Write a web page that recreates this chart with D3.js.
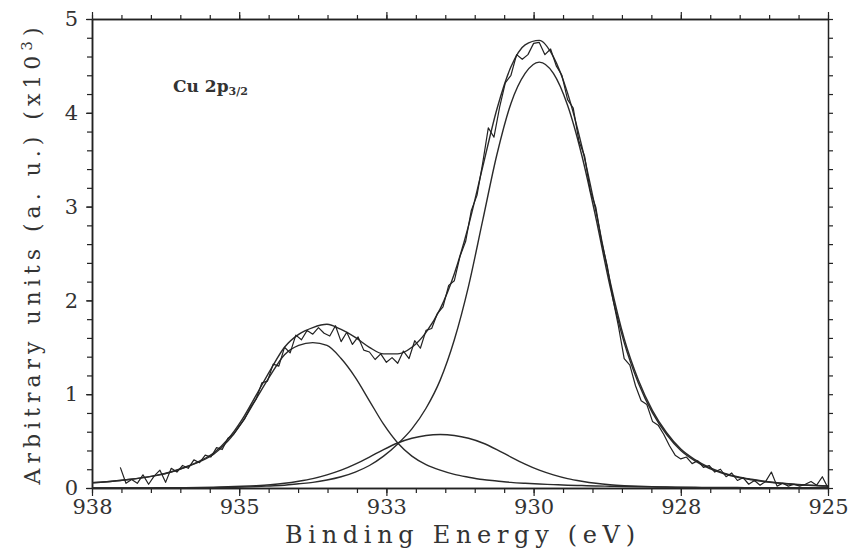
<!DOCTYPE html>
<html>
<head>
<meta charset="utf-8">
<script src="https://cdn.jsdelivr.net/npm/d3@7"></script>
<style>
  body { margin: 0; background: #fff; }
  svg { display: block; }
  text { font-family: "DejaVu Serif", serif; fill: #333; }
</style>
</head>
<body>
<div id="chart"></div>
<script>
// fitted components, sampled on a common energy grid (eV)
const fitEnergy = [938.0, 937.85, 937.6, 937.35, 937.1, 936.85, 936.6, 936.35, 936.1, 935.85, 935.6, 935.35, 935.1,
    934.85, 934.6, 934.35, 934.1, 933.85, 933.6, 933.35, 933.1, 932.85, 932.6, 932.35, 932.1, 931.85, 931.6,
    931.35, 931.1, 930.85, 930.6, 930.35, 930.1, 929.85, 929.6, 929.35, 929.1, 928.85, 928.6, 928.35, 928.1,
    927.85, 927.6, 927.35, 927.1, 926.85, 926.6, 926.35, 926.1, 925.85, 925.6, 925.35, 925.1, 925.0];
const peakMain = [0, 0, 0, 0, 0, 0, 0, 0, 0.001, 0.004, 0.006, 0.01, 0.015,
    0.022, 0.03, 0.045, 0.06, 0.085, 0.12, 0.17, 0.24, 0.34, 0.47, 0.63, 0.85, 1.15, 1.58,
    2.15, 2.85, 3.55, 4.10, 4.42, 4.54, 4.42, 4.08, 3.55, 2.88, 2.15, 1.55, 1.12, 0.80,
    0.57, 0.40, 0.29, 0.21, 0.155, 0.115, 0.088, 0.066, 0.05, 0.038, 0.029, 0.022, 0.02];
const peakHigh = [0.056, 0.062, 0.075, 0.09, 0.11, 0.135, 0.17, 0.22, 0.28, 0.36, 0.50, 0.70, 0.95,
    1.20, 1.42, 1.52, 1.55, 1.52, 1.38, 1.18, 0.93, 0.68, 0.48, 0.34, 0.25, 0.19, 0.145,
    0.115, 0.09, 0.075, 0.06, 0.05, 0.042, 0.036, 0.03, 0.026, 0.022, 0.019, 0.016, 0.014, 0.012,
    0.01, 0.009, 0.008, 0.006, 0.005, 0.005, 0.004, 0.004, 0.003, 0.003, 0.002, 0.002, 0.002];
const peakMid = [0, 0, 0, 0.001, 0.001, 0.002, 0.003, 0.004, 0.006, 0.009, 0.013, 0.018, 0.025,
    0.035, 0.05, 0.072, 0.10, 0.14, 0.19, 0.255, 0.33, 0.41, 0.48, 0.53, 0.56, 0.57, 0.56,
    0.53, 0.48, 0.41, 0.33, 0.255, 0.19, 0.14, 0.10, 0.072, 0.05, 0.035, 0.025, 0.018, 0.013,
    0.009, 0.006, 0.004, 0.003, 0.002, 0.001, 0.001, 0, 0, 0, 0, 0, 0];
const fitSum = [0.056, 0.062, 0.075, 0.091, 0.111, 0.137, 0.173, 0.224, 0.287, 0.373, 0.519, 0.728, 0.99,
    1.257, 1.50, 1.637, 1.71, 1.745, 1.69, 1.605, 1.50, 1.43, 1.43, 1.50, 1.66, 1.91, 2.285,
    2.795, 3.42, 4.035, 4.49, 4.725, 4.772, 4.596, 4.21, 3.648, 2.952, 2.204, 1.591, 1.152, 0.825,
    0.589, 0.415, 0.302, 0.219, 0.162, 0.121, 0.093, 0.07, 0.053, 0.041, 0.031, 0.024, 0.022];

// measured spectrum (x10^3 counts)
const rawEnergy = [937.5, 937.4, 937.3, 937.2, 937.1, 937.0, 936.9, 936.8, 936.7, 936.6, 936.5, 936.4, 936.3, 936.2,
    936.1, 936.0, 935.9, 935.8, 935.7, 935.6, 935.5, 935.4, 935.3, 935.2, 935.1, 935.0, 934.9, 934.8, 934.7,
    934.6, 934.5, 934.4, 934.3, 934.2, 934.1, 934.0, 933.9, 933.8, 933.7, 933.6, 933.5, 933.4, 933.3, 933.2,
    933.1, 933.0, 932.9, 932.8, 932.7, 932.6, 932.5, 932.4, 932.3, 932.2, 932.1, 932.0, 931.9, 931.8, 931.7,
    931.6, 931.5, 931.4, 931.3, 931.2, 931.1, 931.0, 930.9, 930.8, 930.7, 930.6, 930.5, 930.4, 930.3, 930.2,
    930.1, 930.0, 929.9, 929.8, 929.7, 929.6, 929.5, 929.4, 929.3, 929.2, 929.1, 929.0, 928.9, 928.8, 928.7,
    928.6, 928.5, 928.4, 928.3, 928.2, 928.1, 928.0, 927.9, 927.8, 927.7, 927.6, 927.5, 927.4, 927.3, 927.2,
    927.1, 927.0, 926.9, 926.8, 926.7, 926.6, 926.5, 926.4, 926.3, 926.2, 926.1, 926.0, 925.9, 925.8, 925.7,
    925.6, 925.5, 925.4, 925.3, 925.2, 925.1, 925.0];
const rawCounts = [0.22, 0.05, 0.09, 0.05, 0.14, 0.04, 0.13, 0.19, 0.06, 0.21, 0.17, 0.24, 0.21, 0.30,
    0.27, 0.35, 0.33, 0.43, 0.41, 0.53, 0.57, 0.66, 0.74, 0.86, 0.95, 1.12, 1.14, 1.32, 1.30,
    1.50, 1.44, 1.63, 1.58, 1.68, 1.64, 1.71, 1.65, 1.62, 1.73, 1.56, 1.66, 1.53, 1.61, 1.47,
    1.45, 1.37, 1.43, 1.34, 1.39, 1.33, 1.46, 1.38, 1.57, 1.49, 1.68, 1.70, 1.86, 1.93, 2.16,
    2.21, 2.47, 2.63, 2.96, 3.12, 3.46, 3.84, 3.74, 4.06, 4.32, 4.40, 4.62, 4.57, 4.62, 4.74,
    4.75, 4.62, 4.68, 4.50, 4.40, 4.14, 4.05, 3.70, 3.54, 3.17, 2.99, 2.63, 2.37, 2.02, 1.72,
    1.38, 1.31, 1.09, 0.93, 0.89, 0.71, 0.67, 0.57, 0.45, 0.35, 0.31, 0.33, 0.26, 0.29, 0.22,
    0.24, 0.17, 0.20, 0.12, 0.16, 0.08, 0.11, 0.04, 0.08, 0.03, 0.07, 0.17, 0.02, 0.05, 0.02,
    0.04, 0.02, 0.04, 0.07, 0.03, 0.12, 0.00];

const xTickValues = [938, 935.4, 932.8, 930.2, 927.6, 925];
const xTickLabels = ["938", "935", "933", "930", "928", "925"];
const yTickValues = [0, 1, 2, 3, 4, 5];

const width = 852, height = 553;
const plot = { left: 92, right: 828, top: 19, bottom: 488 };

const svg = d3.select("#chart").append("svg")
    .attr("width", width)
    .attr("height", height);

const x = d3.scaleLinear().domain([938, 925]).range([plot.left, plot.right]);
const y = d3.scaleLinear().domain([0, 5]).range([plot.bottom, plot.top]);

// 5 minor steps between labelled ticks
const xMinor = d3.range(0, 26).map(i => 938 - i * 0.52);
const yMinor = d3.range(0, 26).map(i => i * 0.2);

function styleAxis(g) {
    g.select(".domain").attr("stroke", "#222").attr("stroke-width", 1.5);
    g.selectAll(".tick line").attr("stroke", "#222").attr("stroke-width", 1.2);
    g.selectAll(".tick text").style("font-size", "21px").attr("fill", "#333");
}

// bottom
svg.append("g").attr("transform", `translate(0,${plot.bottom})`)
    .call(d3.axisBottom(x).tickValues(xMinor).tickSize(5).tickSizeOuter(0).tickFormat(""))
    .call(styleAxis);
svg.append("g").attr("transform", `translate(0,${plot.bottom})`)
    .call(d3.axisBottom(x).tickValues(xTickValues).tickSize(8).tickSizeOuter(0).tickPadding(3)
        .tickFormat((d, i) => xTickLabels[i]))
    .call(styleAxis);
// top
svg.append("g").attr("transform", `translate(0,${plot.top})`)
    .call(d3.axisTop(x).tickValues(xMinor).tickSize(4).tickSizeOuter(0).tickFormat(""))
    .call(styleAxis);
svg.append("g").attr("transform", `translate(0,${plot.top})`)
    .call(d3.axisTop(x).tickValues(xTickValues).tickSize(7).tickSizeOuter(0).tickFormat(""))
    .call(styleAxis);
// left
svg.append("g").attr("transform", `translate(${plot.left},0)`)
    .call(d3.axisLeft(y).tickValues(yMinor).tickSize(5).tickSizeOuter(0).tickFormat(""))
    .call(styleAxis);
svg.append("g").attr("transform", `translate(${plot.left},0)`)
    .call(d3.axisLeft(y).tickValues(yTickValues).tickSize(6).tickSizeOuter(0).tickPadding(8)
        .tickFormat(d3.format("d")))
    .call(styleAxis);
// right
svg.append("g").attr("transform", `translate(${plot.right},0)`)
    .call(d3.axisRight(y).tickValues(yMinor).tickSize(5).tickSizeOuter(0).tickFormat(""))
    .call(styleAxis);

// curves
const smooth = d3.line()
    .x((d, i) => x(fitEnergy[i]))
    .y(d => y(d))
    .curve(d3.curveMonotoneX);

[peakMain, peakHigh, peakMid, fitSum].forEach(series => {
    svg.append("path")
        .datum(series)
        .attr("d", smooth)
        .attr("fill", "none")
        .attr("stroke", "#2a2a2a")
        .attr("stroke-width", 1.4);
});

const jagged = d3.line()
    .x((d, i) => x(rawEnergy[i]))
    .y(d => y(d));

svg.append("path")
    .datum(rawCounts)
    .attr("d", jagged)
    .attr("fill", "none")
    .attr("stroke", "#222")
    .attr("stroke-width", 1.2)
    .attr("stroke-linejoin", "round");

// labels
svg.append("text")
    .attr("x", (plot.left + plot.right) / 2)
    .attr("y", 543)
    .attr("text-anchor", "middle")
    .attr("textLength", 350)
    .attr("lengthAdjust", "spacing")
    .style("font-size", "24px")
    .text("Binding Energy (eV)");

const yLabel = svg.append("text")
    .attr("transform", `translate(40,${(plot.top + plot.bottom) / 2}) rotate(-90)`)
    .attr("text-anchor", "middle")
    .style("font-size", "22px")
    .style("letter-spacing", "5px");
yLabel.append("tspan").text("Arbitrary units (a. u.) (x10");
yLabel.append("tspan").attr("dy", -8).style("font-size", "15px").text("3");
yLabel.append("tspan").attr("dy", 8).text(")");

const peakName = svg.append("text")
    .attr("x", 173)
    .attr("y", 92)
    .style("font-size", "17px")
    .style("font-weight", "bold");
peakName.append("tspan").text("Cu 2p");
peakName.append("tspan").attr("dy", 3).style("font-size", "11px").text("3/2");
</script>
</body>
</html>
